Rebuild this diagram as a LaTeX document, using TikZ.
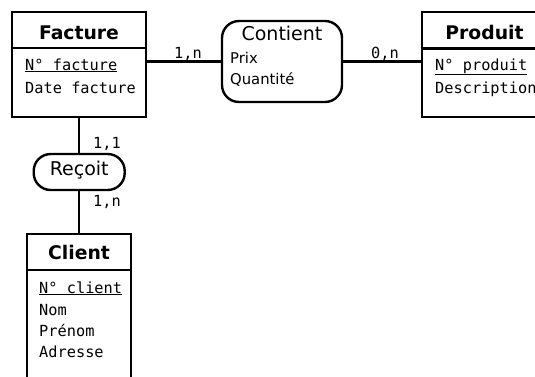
\documentclass[tikz,border=0pt]{standalone}
\usepackage{fontspec}
\setmainfont{DejaVu Sans}
\setsansfont{DejaVu Sans}
\setmonofont{DejaVu Sans Mono}
\usetikzlibrary{calc}
\tikzset{
  entity/.style={draw, line width=2.6pt, inner sep=0pt, fill=white},
  relation/.style={draw, line width=2.4pt, inner sep=0pt, rounded corners=17pt, fill=white},
  divider/.style={line width=2.2pt},
  link/.style={line width=2.2pt},
  etitle/.style={inner sep=0pt, anchor=base, font=\fontsize{18.8}{22}\selectfont\bfseries},
  rtitle/.style={inner sep=0pt, anchor=base, font=\fontsize{19}{22}\selectfont},
  attr/.style={inner sep=0pt, anchor=base west, font=\fontsize{15.3}{18}\ttfamily},
  rattr/.style={inner sep=0pt, anchor=base west, font=\fontsize{14.8}{17}\selectfont},
  card/.style={inner sep=0pt, anchor=base west, font=\fontsize{15.3}{18}\ttfamily},
}
\begin{document}
\begin{tikzpicture}[x=1pt,y=-1pt]
\useasboundingbox (0,0) rectangle (535,376);
% entities
\node[entity, minimum width=134pt, minimum height=105pt] (fact) at (79,64.5) {};
\node[entity, minimum width=125pt, minimum height=105pt] (prod) at (484.5,64.5) {};
\node[entity, minimum width=104pt, minimum height=180pt] (cli) at (79,324) {};
% relations
\node[relation, minimum width=120pt, minimum height=81pt] (cont) at (282,61.5) {};
\node[relation, minimum width=91pt, minimum height=36pt] (rec) at (79.2,172) {};
% dividers
\draw[divider] (fact.west |- 0,48) coordinate (fd1) -- (fact.east |- 0,48) coordinate (fd2);
\draw[divider] (prod.west |- 0,48.5) coordinate (pd1) -- (prod.east |- 0,48.5) coordinate (pd2);
\draw[divider] (cli.west |- 0,270) coordinate (cd1) -- (cli.east |- 0,270) coordinate (cd2);
% connectors
\draw[link] (cont.west) -- (cont.west -| fact.east);
\draw[link] (cont.east) -- (cont.east -| prod.west);
\draw[link] (rec.north) -- (rec.north |- fact.south);
\draw[link] (rec.south) -- (rec.south |- cli.north);
% texts
\node[etitle] (tf) at (79,39) {Facture};
\node[attr] (f1) at (25,70) {\underline{N° facture}};
\node[attr] (f2) at (25,93) {Date facture};
\node[etitle] (tp) at (484.5,39) {Produit};
\node[attr] (p1) at (435,70) {\underline{N° produit}};
\node[attr] (p2) at (435,93) {Description};
\node[etitle] (tc) at (79,259) {Client};
\node[attr] (c1) at (39,293) {\underline{N° client}};
\node[attr] (c2) at (39,315) {Nom};
\node[attr] (c3) at (39,336) {Prénom};
\node[attr] (c4) at (39,357) {Adresse};
\node[rtitle] (tco) at (282,40.5) {Contient};
\node[rattr] (r1) at (230,63) {Prix};
\node[rattr] (r2) at (230,84) {Quantité};
\node[rtitle] (tre) at (79.2,175) {Reçoit};
% cardinalities
\node[card] (k1) at (174,58) {1,n};
\node[card] (k2) at (371,58) {0,n};
\node[card] (k3) at (93,148) {1,1};
\node[card] (k4) at (93,206) {1,n};
\end{tikzpicture}
\end{document}
